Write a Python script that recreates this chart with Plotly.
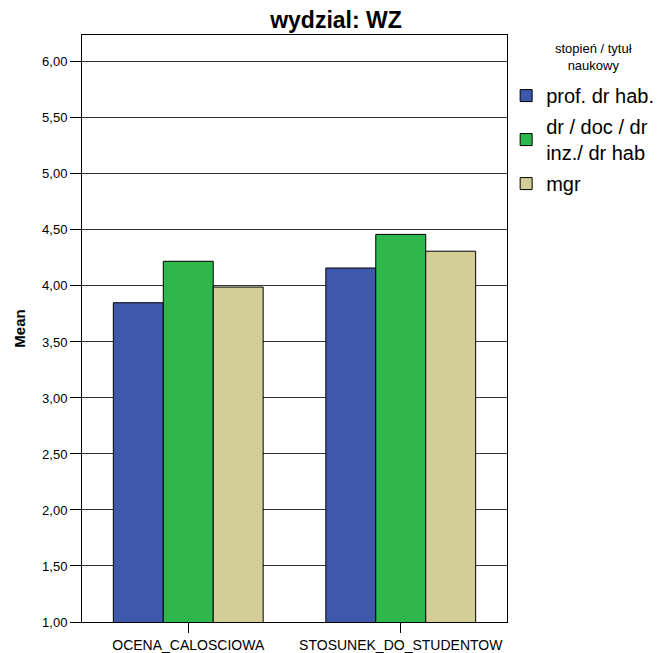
import plotly.graph_objects as go

categories = ["OCENA_CALOSCIOWA", "STOSUNEK_DO_STUDENTOW"]
series_names = ["prof. dr hab.", "dr / doc / dr<br>inz./ dr hab", "mgr"]
prof_values = [3.85, 4.16]
dr_values = [4.22, 4.46]
mgr_values = [3.99, 4.31]
colors = ["#3e58ac", "#2eb84b", "#d3ce97"]
y_ticks = [1.0, 1.5, 2.0, 2.5, 3.0, 3.5, 4.0, 4.5, 5.0, 5.5, 6.0]

fig = go.Figure()
for i, (name, vals, col) in enumerate(zip(series_names, [prof_values, dr_values, mgr_values], colors)):
    fig.add_trace(go.Bar(x=categories, y=vals, name=name, legendgroup=f"g{i}",
                         marker=dict(color=col, line=dict(color="black", width=1))))

FONT = "Liberation Sans, Arial, sans-serif"
# page body has an 8px margin, so the figure is 8px smaller than the window
fig.update_layout(
    width=658, height=645,
    barmode="group", bargap=0.295, bargroupgap=0,
    separators=", ",
    paper_bgcolor="white", plot_bgcolor="white",
    font=dict(family=FONT, color="black"),
    margin=dict(l=74, r=159, t=27, b=31, autoexpand=False),
    title=dict(text="<b>wydzial: WZ</b>", x=0.4985, xref="container", xanchor="center",
               y=0.981, yref="container", yanchor="middle", font=dict(size=23, family=FONT)),
    showlegend=True,
    legend=dict(x=0.998, y=0.93, xanchor="left", yanchor="top",
                font=dict(size=20, family=FONT), tracegroupgap=2,
                bgcolor="rgba(0,0,0,0)"),
    annotations=[dict(text="stopień / tytuł<br>naukowy", xref="paper", yref="paper",
                      x=1.204, y=0.9625, xanchor="center", yanchor="middle",
                      align="center", showarrow=False, font=dict(size=13, family=FONT))],
)
fig.update_yaxes(range=[1, 6.24], tickvals=y_ticks, tickformat=".2f", automargin=False,
                 showgrid=True, gridcolor="#333333", gridwidth=1,
                 ticks="outside", ticklen=11, tickcolor="black",
                 showline=True, linecolor="black", linewidth=1, mirror=True,
                 zeroline=False, tickfont=dict(size=13),
                 title=dict(text="<b>Mean</b>", font=dict(size=15), standoff=12))
fig.update_xaxes(ticks="outside", ticklen=10, tickcolor="black", automargin=False,
                 showline=True, linecolor="black", linewidth=1, mirror=True,
                 tickfont=dict(size=14))

fig.write_html("out.html")
